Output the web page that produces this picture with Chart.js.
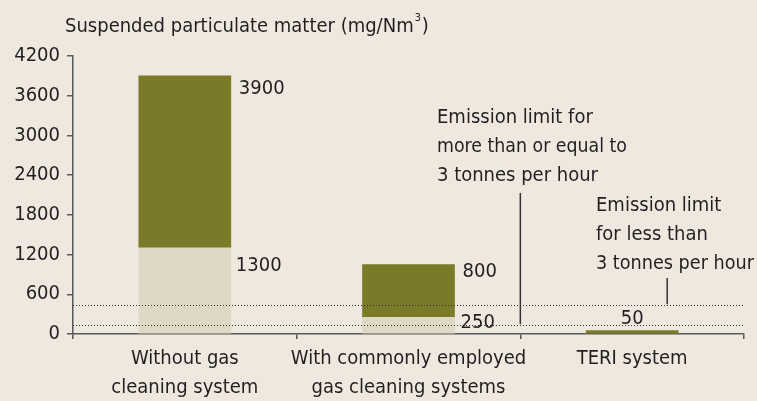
<!DOCTYPE html>
<html>
<head>
<meta charset="utf-8">
<script src="https://cdn.jsdelivr.net/npm/chart.js@4"></script>
<style>
  html, body { margin: 0; padding: 0; background: #eee8df; }
  #wrap { width: 757px; height: 401px; }
</style>
</head>
<body>
<div id="wrap"><canvas id="chartSpm"></canvas></div>
<script>
const categories = [
  ['Without gas', 'cleaning system'],
  ['With commonly employed', 'gas cleaning systems'],
  ['TERI system']
];
const lowerValues = [1300, 250, 0];      // light part
const upperValues = [3900, 1050, 50];    // top of dark part
const upperLabels = ['3900', '800', '50'];
const lowerLabels = ['1300', '250', ''];
const limitValues = [150, 450];
const yTicks = [0, 600, 1200, 1800, 2400, 3000, 3600, 4200];

const FONT = '"DejaVu Sans Condensed", "Liberation Sans Narrow", sans-serif';
const TXT = '#231f20';
const AXIS = '#58595b';
const FS = 20;

const extras = {
  id: 'extras',
  afterDatasetsDraw(chart) {
    const c = chart.ctx;
    const x = chart.scales.x, y = chart.scales.y;
    const area = chart.chartArea;
    c.save();
    c.fillStyle = TXT;
    c.font = FS + 'px ' + FONT;
    c.textBaseline = 'middle';

    // title
    c.textAlign = 'left';
    c.fillText('Suspended particulate matter (mg/Nm', 65, 27);
    let w = c.measureText('Suspended particulate matter (mg/Nm').width;
    c.font = '11px ' + FONT;
    c.fillText('3', 65 + w + 1, 18);
    c.font = FS + 'px ' + FONT;
    c.fillText(')', 65 + w + 8, 27);

    // limit lines
    c.strokeStyle = '#333';
    c.lineWidth = 1;
    c.setLineDash([1, 2]);
    limitValues.forEach(v => {
      const py = Math.round(y.getPixelForValue(v)) + 1.5;
      c.beginPath();
      c.moveTo(area.left, py);
      c.lineTo(area.right, py);
      c.stroke();
    });
    c.setLineDash([]);

    // leader lines
    c.lineWidth = 1.5;
    const lx1 = x.getPixelForValue(1.5);
    c.beginPath();
    c.moveTo(lx1, 193);
    c.lineTo(lx1, y.getPixelForValue(limitValues[0]));
    c.stroke();
    const lx2 = x.getPixelForValue(2) + 35;
    c.beginPath();
    c.moveTo(lx2, 278);
    c.lineTo(lx2, y.getPixelForValue(limitValues[1]));
    c.stroke();

    // annotation text
    c.textAlign = 'left';
    ['Emission limit for', 'more than or equal to', '3 tonnes per hour']
      .forEach((t, i) => c.fillText(t, 437, 118 + i * 29, 190));
    ['Emission limit', 'for less than', '3 tonnes per hour']
      .forEach((t, i) => c.fillText(t, 596, 206 + i * 29, 158));

    // value labels
    const bars = chart.getDatasetMeta(1).data;
    bars.forEach((b, i) => {
      const half = b.width / 2;
      if (i < 2) {
        c.textAlign = 'left';
        c.fillText(upperLabels[i], b.x + half + 8, i === 0 ? y.getPixelForValue(upperValues[i]) + 13 : y.getPixelForValue(upperValues[i]) + 7);
        c.fillText(lowerLabels[i], b.x + half + (i === 0 ? 5 : 6), i === 0 ? y.getPixelForValue(lowerValues[i]) + 18 : y.getPixelForValue(lowerValues[i]) + 5);
      } else {
        c.textAlign = 'center';
        c.fillText(upperLabels[i], b.x, y.getPixelForValue(upperValues[i]) - 12);
      }
    });
    c.restore();
  }
};

new Chart(document.getElementById('chartSpm'), {
  type: 'bar',
  data: {
    labels: categories,
    datasets: [{
      data: lowerValues.map(v => v > 0 ? [0, v] : null),
      backgroundColor: '#ddd9c4',
      barThickness: 92,
      grouped: false
    }, {
      data: lowerValues.map((v, i) => [v, upperValues[i]]),
      backgroundColor: '#7a7a29',
      barThickness: 92,
      grouped: false
    }]
  },
  options: {
    responsive: true,
    maintainAspectRatio: false,
    animation: false,
    layout: { padding: { top: 56, right: 13, left: 0, bottom: 0 } },
    plugins: { legend: { display: false }, tooltip: { enabled: false } },
    scales: {
      x: {
        afterFit: s => { s.height = 67; },
        grid: { display: true, drawOnChartArea: false, tickLength: 5, color: AXIS, lineWidth: 1.5 },
        border: { display: true, color: AXIS, width: 1.5 },
        ticks: { color: TXT, font: { family: FONT, size: FS, lineHeight: 1.45 }, padding: 5, maxRotation: 0, autoSkip: false }
      },
      y: {
        min: 0, max: 4200,
        afterBuildTicks: s => { s.ticks = yTicks.map(v => ({ value: v })); },
        afterFit: s => { s.width = 73; },
        grid: { display: true, drawOnChartArea: false, tickLength: 6, color: AXIS, lineWidth: 1.5 },
        border: { display: true, color: AXIS, width: 1.5 },
        ticks: { color: TXT, font: { family: FONT, size: FS }, padding: 7, callback: v => String(v) }
      }
    }
  },
  plugins: [extras]
});
</script>
</body>
</html>
